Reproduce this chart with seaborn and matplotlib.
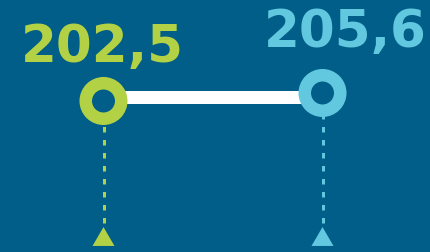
import matplotlib
matplotlib.use('Agg')
import matplotlib.pyplot as plt
import numpy as np
import seaborn as sns

# Data
labels = ['A', 'B']
values = [202.5, 205.6]
colors = ['#B3D144', '#62C8E0']
bg = '#005E88'

sns.set_theme(style='white', rc={'figure.facecolor': bg, 'axes.facecolor': bg})
plt.rcParams['font.family'] = ['DejaVu Sans']
plt.rcParams['lines.scale_dashes'] = False

px = 0.72  # points per pixel at dpi=100
fig = plt.figure(figsize=(4.31, 2.53), dpi=100)
ax = fig.add_axes([0, 0, 1, 1])
ax.set_facecolor(bg)

pos = np.arange(len(values))
ax.set_xlim(-0.4726, 1.4954)
ax.set_ylim(143.97, 242.03)
ax.axis('off')

# connector
mean_v = np.mean(values)
sns.lineplot(x=pos, y=np.full(len(pos), mean_v), color='white',
             linewidth=13 * px, ax=ax, zorder=2, solid_capstyle='butt')

# dashed drop lines + triangles
y0, y1 = ax.get_ylim()
tri_y = y0 + 0.0613 * (y1 - y0)
tri = [(-1, -0.86), (1, -0.86), (0, 0.86)]
for x, v, c in zip(pos, values, colors):
    ax.plot([x, x], [tri_y, v], color=c, linewidth=3 * px,
            linestyle=(0, (5.5 * px, 7.5 * px)), zorder=1)
ax.scatter(pos, [tri_y] * len(pos), marker=tri, s=(22 * px) ** 2,
           c=colors, linewidths=0, zorder=3)

# rings
ax.scatter(pos, values, s=(35.5 * px) ** 2, facecolors=bg, edgecolors=colors,
           linewidths=12.5 * px, zorder=4)

# value labels
offsets = [(-1.2, 40), (22.5, 47)]
for x, v, c, (dx, dy) in zip(pos, values, colors, offsets):
    ax.annotate(f'{v:.1f}'.replace('.', ','), (x, v), xytext=(dx * px, dy * px),
                textcoords='offset points', ha='center', va='baseline',
                fontsize=37, fontweight='bold', color=c)

fig.savefig('out.png', dpi=100, facecolor=bg)
